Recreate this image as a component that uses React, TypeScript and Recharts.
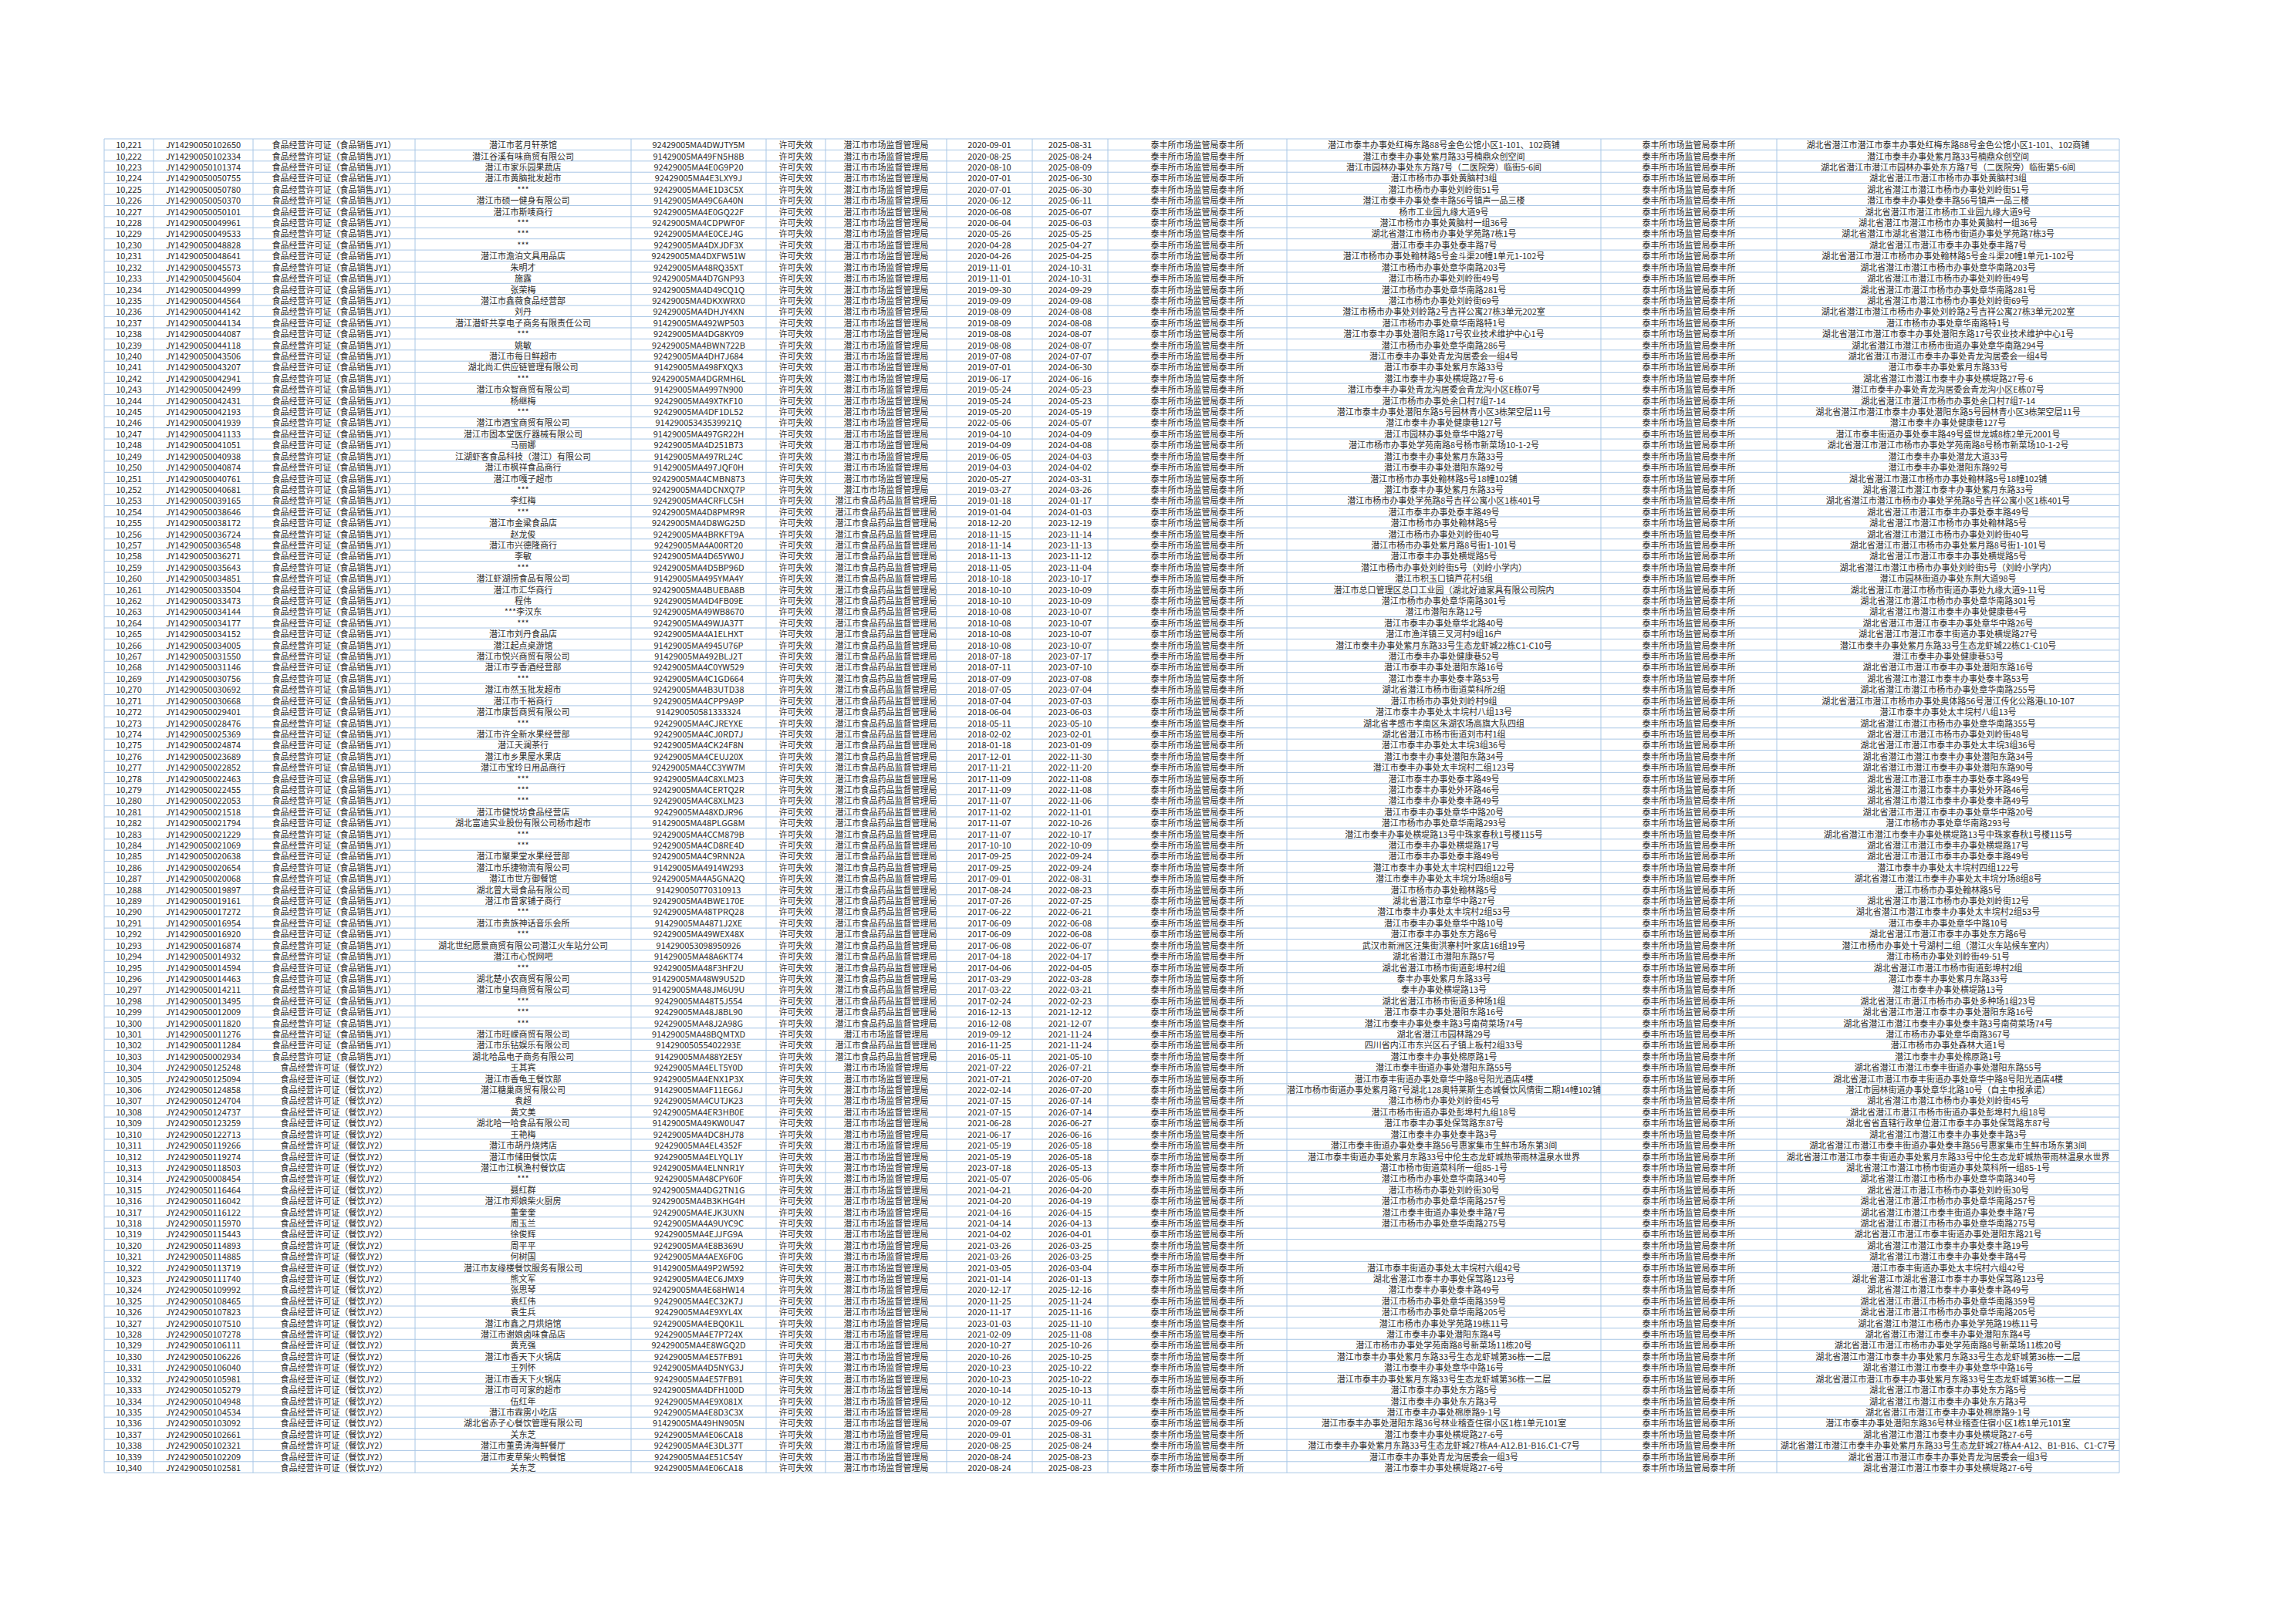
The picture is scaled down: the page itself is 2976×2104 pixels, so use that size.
import React from 'react';
import { ScatterChart, Scatter, XAxis, YAxis, ReferenceLine } from 'recharts';

// ---------------- DATA ----------------
const serialNos = [
  10221, 10222, 10223, 10224, 10225, 10226, 10227, 10228, 10229, 10230,
  10231, 10232, 10233, 10234, 10235, 10236, 10237, 10238, 10239, 10240,
  10241, 10242, 10243, 10244, 10245, 10246, 10247, 10248, 10249, 10250,
  10251, 10252, 10253, 10254, 10255, 10256, 10257, 10258, 10259, 10260,
  10261, 10262, 10263, 10264, 10265, 10266, 10267, 10268, 10269, 10270,
  10271, 10272, 10273, 10274, 10275, 10276, 10277, 10278, 10279, 10280,
  10281, 10282, 10283, 10284, 10285, 10286, 10287, 10288, 10289, 10290,
  10291, 10292, 10293, 10294, 10295, 10296, 10297, 10298, 10299, 10300,
  10301, 10302, 10303, 10304, 10305, 10306, 10307, 10308, 10309, 10310,
  10311, 10312, 10313, 10314, 10315, 10316, 10317, 10318, 10319, 10320,
  10321, 10322, 10323, 10324, 10325, 10326, 10327, 10328, 10329, 10330,
  10331, 10332, 10333, 10334, 10335, 10336, 10337, 10338, 10339, 10340,
];

const licenseNos = [
  'JY14290050102650', 'JY14290050102334', 'JY14290050101374', 'JY14290050050755', 'JY14290050050780',
  'JY14290050050370', 'JY14290050050101', 'JY14290050049961', 'JY14290050049533', 'JY14290050048828',
  'JY14290050048641', 'JY14290050045573', 'JY14290050045604', 'JY14290050044999', 'JY14290050044564',
  'JY14290050044142', 'JY14290050044134', 'JY14290050044087', 'JY14290050044118', 'JY14290050043506',
  'JY14290050043207', 'JY14290050042941', 'JY14290050042499', 'JY14290050042431', 'JY14290050042193',
  'JY14290050041939', 'JY14290050041133', 'JY14290050041051', 'JY14290050040938', 'JY14290050040874',
  'JY14290050040761', 'JY14290050040681', 'JY14290050039165', 'JY14290050038646', 'JY14290050038172',
  'JY14290050036724', 'JY14290050036548', 'JY14290050036271', 'JY14290050035643', 'JY14290050034851',
  'JY14290050033504', 'JY14290050033473', 'JY14290050034144', 'JY14290050034177', 'JY14290050034152',
  'JY14290050034005', 'JY14290050031550', 'JY14290050031146', 'JY14290050030756', 'JY14290050030692',
  'JY14290050030668', 'JY14290050029401', 'JY14290050028476', 'JY14290050025369', 'JY14290050024874',
  'JY14290050023689', 'JY14290050022852', 'JY14290050022463', 'JY14290050022455', 'JY14290050022053',
  'JY14290050021518', 'JY14290050021794', 'JY14290050021229', 'JY14290050021069', 'JY14290050020638',
  'JY14290050020654', 'JY14290050020068', 'JY14290050019897', 'JY14290050019161', 'JY14290050017272',
  'JY14290050016954', 'JY14290050016920', 'JY14290050016874', 'JY14290050014932', 'JY14290050014594',
  'JY14290050014463', 'JY14290050014211', 'JY14290050013495', 'JY14290050012009', 'JY14290050011820',
  'JY14290050011276', 'JY14290050011284', 'JY14290050002934', 'JY24290050125248', 'JY24290050125094',
  'JY24290050124858', 'JY24290050124704', 'JY24290050124737', 'JY24290050123259', 'JY24290050122713',
  'JY24290050119266', 'JY24290050119274', 'JY24290050118503', 'JY24290050008454', 'JY24290050116464',
  'JY24290050116042', 'JY24290050116122', 'JY24290050115970', 'JY24290050115443', 'JY24290050114893',
  'JY24290050114885', 'JY24290050113719', 'JY24290050111740', 'JY24290050109992', 'JY24290050108465',
  'JY24290050107823', 'JY24290050107510', 'JY24290050107278', 'JY24290050106111', 'JY24290050106226',
  'JY24290050106040', 'JY24290050105981', 'JY24290050105279', 'JY24290050104948', 'JY24290050104534',
  'JY24290050103092', 'JY24290050102661', 'JY24290050102321', 'JY24290050102209', 'JY24290050102581',
];

const licenseTypes = ['食品经营许可证（食品销售JY1）', '食品经营许可证（餐饮JY2）'];
// index into licenseTypes for each row
const licenseTypeIdx = [
  0, 0, 0, 0, 0, 0, 0, 0, 0, 0, 0, 0, 0, 0, 0, 0, 0, 0, 0, 0,
  0, 0, 0, 0, 0, 0, 0, 0, 0, 0, 0, 0, 0, 0, 0, 0, 0, 0, 0, 0,
  0, 0, 0, 0, 0, 0, 0, 0, 0, 0, 0, 0, 0, 0, 0, 0, 0, 0, 0, 0,
  0, 0, 0, 0, 0, 0, 0, 0, 0, 0, 0, 0, 0, 0, 0, 0, 0, 0, 0, 0,
  0, 0, 0, 1, 1, 1, 1, 1, 1, 1, 1, 1, 1, 1, 1, 1, 1, 1, 1, 1,
  1, 1, 1, 1, 1, 1, 1, 1, 1, 1, 1, 1, 1, 1, 1, 1, 1, 1, 1, 1,
];

const names = [
  '潜江市茗月轩茶馆', '潜江谷溪有味商贸有限公司', '潜江市家乐园果蔬店', '潜江市黄脑批发超市', '***',
  '潜江市硕一健身有限公司', '潜江市斯唛商行', '***', '***', '***',
  '潜江市澹泊文具用品店', '朱明才', '施露', '张荣梅', '潜江市鑫薇食品经营部',
  '刘丹', '潜江潜虾共享电子商务有限责任公司', '***', '姚敏', '潜江市每日鲜超市',
  '湖北尚汇供应链管理有限公司', '***', '潜江市众智商贸有限公司', '杨继梅', '***',
  '潜江市酒宝商贸有限公司', '潜江市固本堂医疗器械有限公司', '马丽娜', '江湖虾客食品科技（潜江）有限公司', '潜江市枫祥食品商行',
  '潜江市嘎子超市', '***', '李红梅', '***', '潜江市金粱食品店',
  '赵龙俊', '潜江市兴德隆商行', '李敏', '***', '潜江虾湖捞食品有限公司',
  '潜江市汇华商行', '程伟', '***李汉东', '***', '潜江市刘丹食品店',
  '潜江起点桌游馆', '潜江市悦兴商贸有限公司', '潜江市亨香酒经营部', '***', '潜江市然玉批发超市',
  '潜江市千裕商行', '潜江市康哲商贸有限公司', '***', '潜江市许全新水果经营部', '潜江天澜茶行',
  '潜江市乡果屋水果店', '潜江市宝玲日用品商行', '***', '***', '***',
  '潜江市健悦坊食品经营店', '湖北富迪实业股份有限公司杨市超市', '***', '***', '潜江市聚果堂水果经营部',
  '潜江市乐捷物流有限公司', '潜江市世方御餐馆', '湖北曾大哥食品有限公司', '潜江市曾家铺子商行', '***',
  '潜江市贵族神话音乐会所', '***', '湖北世纪愿景商贸有限公司潜江火车站分公司', '潜江市心悦网吧', '***',
  '湖北楚小农商贸有限公司', '潜江市皇玛商贸有限公司', '***', '***', '***',
  '潜江市旺嵘商贸有限公司', '潜江市乐钻娱乐有限公司', '湖北哈品电子商务有限公司', '王其宾', '潜江市香龟王餐饮部',
  '潜江糖巢商贸有限公司', '袁超', '黄文美', '湖北哈一哈食品有限公司', '王艳梅',
  '潜江市胡丹烧烤店', '潜江市储田餐饮店', '潜江市江枫渔村餐饮店', '***', '聂红群',
  '潜江市郑娘柴火厨房', '董奎奎', '周玉兰', '徐俊辉', '周平平',
  '何树国', '潜江市友缘楼餐饮服务有限公司', '熊文军', '张思琴', '袁红伟',
  '袁生兵', '潜江市鑫之月烘焙馆', '潜江市谢娘卤味食品店', '黄克强', '潜江市香天下火锅店',
  '王列怀', '潜江市香天下火锅店', '潜江市可可家的超市', '伍红年', '潜江市霖雳小吃店',
  '湖北省赤子心餐饮管理有限公司', '关东芝', '潜江市董勇涛海鲜餐厅', '潜江市麦草柴火鸭餐馆', '关东芝',
];

const creditCodes = [
  '92429005MA4DWJTY5M', '91429005MA49FN5H8B', '92429005MA4E0G9P20', '92429005MA4E3LXY9J', '92429005MA4E1D3C5X',
  '91429005MA49C6A40N', '92429005MA4E0GQ22F', '92429005MA4CDPWF0F', '92429005MA4E0CEJ4G', '92429005MA4DXJDF3X',
  '92429005MA4DXFW51W', '92429005MA48RQ35XT', '92429005MA4D7GNP93', '92429005MA4D49CQ1Q', '92429005MA4DKXWRX0',
  '92429005MA4DHJY4XN', '91429005MA492WP503', '92429005MA4DG8KY09', '92429005MA4BWN722B', '92429005MA4DH7J684',
  '91429005MA498FXQX3', '92429005MA4DGRMH6L', '91429005MA4997N900', '92429005MA49X7KF10', '92429005MA4DF1DL52',
  '91429005343539921Q', '91429005MA497GR22H', '92429005MA4D251B73', '91429005MA497RL24C', '91429005MA497JQF0H',
  '92429005MA4CMBN873', '92429005MA4DCNXQ7P', '92429005MA4CRFLC5H', '92429005MA4D8PMR9R', '92429005MA4D8WG25D',
  '92429005MA4BRKFT9A', '92429005MA4A00RT20', '92429005MA4D65YW0J', '92429005MA4D5BP96D', '91429005MA495YMA4Y',
  '92429005MA4BUEBA8B', '92429005MA4D4FB09E', '92429005MA49WB8670', '92429005MA49WJA37T', '92429005MA4A1ELHXT',
  '91429005MA4945U76P', '91429005MA492BLJ2T', '92429005MA4C0YW529', '92429005MA4C1GD664', '92429005MA4B3UTD38',
  '92429005MA4CPP9A9P', '914290050581333324', '92429005MA4CJREYXE', '92429005MA4CJ0RD7J', '92429005MA4CK24F8N',
  '92429005MA4CEUJ20X', '92429005MA4CC3YW7M', '92429005MA4C8XLM23', '92429005MA4CERTQ2R', '92429005MA4C8XLM23',
  '92429005MA48XDJR96', '91429005MA48PLGG8M', '92429005MA4CCM879B', '92429005MA4CD8RE4D', '92429005MA4C9RNN2A',
  '91429005MA4914W293', '92429005MA4A5GNA2Q', '914290050770310913', '92429005MA4BWE170E', '92429005MA48TPRQ28',
  '91429005MA4871J2XE', '92429005MA49WEX48X', '914290053098950926', '91429005MA48A6KT74', '92429005MA48F3HF2U',
  '91429005MA48W9U52D', '91429005MA48JM6U9U', '92429005MA48T5J554', '92429005MA48J8BL90', '92429005MA48J2A98G',
  '91429005MA48BQMTXD', '91429005055402293E', '91429005MA488Y2E5Y', '92429005MA4ELT5Y0D', '92429005MA4ENX1P3X',
  '91429005MA4F11EG6J', '92429005MA4CUTJK23', '92429005MA4ER3HB0E', '91429005MA49KW0U47', '92429005MA4DC8HJ78',
  '92429005MA4EL4352F', '92429005MA4ELYQL1Y', '92429005MA4ELNNR1Y', '92429005MA48CPY60F', '92429005MA4DG2TN1G',
  '92429005MA4B3KHG4H', '92429005MA4EJK3UXN', '92429005MA4A9UYC9C', '92429005MA4EJJFG9A', '92429005MA4E8B369U',
  '92429005MA4AEX6F0G', '91429005MA49P2W592', '92429005MA4EC6JMX9', '92429005MA4E68HW14', '92429005MA4EC32K7J',
  '92429005MA4E9XYL4X', '92429005MA4EBQ0K1L', '92429005MA4E7P724X', '92429005MA4E8WGQ2D', '92429005MA4E57FB91',
  '92429005MA4D5NYG3J', '92429005MA4E57FB91', '92429005MA4DFH100D', '92429005MA4E9X081X', '92429005MA4E8D3C3X',
  '91429005MA49HN905N', '92429005MA4E06CA18', '92429005MA4E3DL37T', '92429005MA4E51C54Y', '92429005MA4E06CA18',
];

const statusText = '许可失效';

const authorities = ['潜江市市场监督管理局', '潜江市食品药品监督管理局'];
const authorityIdx = [
  0, 0, 0, 0, 0, 0, 0, 0, 0, 0, 0, 0, 0, 0, 0, 0, 0, 0, 0, 0,
  0, 0, 0, 0, 0, 0, 0, 0, 0, 0, 0, 0, 1, 1, 1, 1, 1, 1, 1, 1,
  1, 1, 1, 1, 1, 1, 1, 1, 1, 1, 1, 1, 1, 1, 1, 1, 1, 1, 1, 1,
  1, 1, 1, 1, 1, 1, 1, 1, 1, 1, 1, 1, 1, 1, 1, 1, 1, 1, 1, 1,
  0, 1, 1, 0, 0, 0, 0, 0, 0, 0, 0, 0, 0, 0, 0, 0, 0, 0, 0, 0,
  0, 0, 0, 0, 0, 0, 0, 0, 0, 0, 0, 0, 0, 0, 0, 0, 0, 0, 0, 0,
];

const issueDates = [
  '2020-09-01', '2020-08-25', '2020-08-10', '2020-07-01', '2020-07-01', '2020-06-12', '2020-06-08', '2020-06-04', '2020-05-26', '2020-04-28',
  '2020-04-26', '2019-11-01', '2019-11-01', '2019-09-30', '2019-09-09', '2019-08-09', '2019-08-09', '2019-08-08', '2019-08-08', '2019-07-08',
  '2019-07-01', '2019-06-17', '2019-05-24', '2019-05-24', '2019-05-20', '2022-05-06', '2019-04-10', '2019-04-09', '2019-06-05', '2019-04-03',
  '2020-05-27', '2019-03-27', '2019-01-18', '2019-01-04', '2018-12-20', '2018-11-15', '2018-11-14', '2018-11-13', '2018-11-05', '2018-10-18',
  '2018-10-10', '2018-10-10', '2018-10-08', '2018-10-08', '2018-10-08', '2018-10-08', '2018-07-18', '2018-07-11', '2018-07-09', '2018-07-05',
  '2018-07-04', '2018-06-04', '2018-05-11', '2018-02-02', '2018-01-18', '2017-12-01', '2017-11-21', '2017-11-09', '2017-11-09', '2017-11-07',
  '2017-11-02', '2017-11-07', '2017-11-07', '2017-10-10', '2017-09-25', '2017-09-25', '2017-09-01', '2017-08-24', '2017-07-26', '2017-06-22',
  '2017-06-09', '2017-06-09', '2017-06-08', '2017-04-18', '2017-04-06', '2017-03-29', '2017-03-22', '2017-02-24', '2016-12-13', '2016-12-08',
  '2019-09-12', '2016-11-25', '2016-05-11', '2021-07-22', '2021-07-21', '2022-02-14', '2021-07-15', '2021-07-15', '2021-06-28', '2021-06-17',
  '2021-05-19', '2021-05-19', '2023-07-18', '2021-05-07', '2021-04-21', '2021-04-20', '2021-04-16', '2021-04-14', '2021-04-02', '2021-03-26',
  '2021-03-26', '2021-03-05', '2021-01-14', '2020-12-17', '2020-11-25', '2020-11-17', '2023-01-03', '2021-02-09', '2020-10-27', '2020-10-26',
  '2020-10-23', '2020-10-23', '2020-10-14', '2020-10-12', '2020-09-28', '2020-09-07', '2020-09-01', '2020-08-25', '2020-08-24', '2020-08-24',
];

const expiryDates = [
  '2025-08-31', '2025-08-24', '2025-08-09', '2025-06-30', '2025-06-30', '2025-06-11', '2025-06-07', '2025-06-03', '2025-05-25', '2025-04-27',
  '2025-04-25', '2024-10-31', '2024-10-31', '2024-09-29', '2024-09-08', '2024-08-08', '2024-08-08', '2024-08-07', '2024-08-07', '2024-07-07',
  '2024-06-30', '2024-06-16', '2024-05-23', '2024-05-23', '2024-05-19', '2024-05-07', '2024-04-09', '2024-04-08', '2024-04-03', '2024-04-02',
  '2024-03-31', '2024-03-26', '2024-01-17', '2024-01-03', '2023-12-19', '2023-11-14', '2023-11-13', '2023-11-12', '2023-11-04', '2023-10-17',
  '2023-10-09', '2023-10-09', '2023-10-07', '2023-10-07', '2023-10-07', '2023-10-07', '2023-07-17', '2023-07-10', '2023-07-08', '2023-07-04',
  '2023-07-03', '2023-06-03', '2023-05-10', '2023-02-01', '2023-01-09', '2022-11-30', '2022-11-20', '2022-11-08', '2022-11-08', '2022-11-06',
  '2022-11-01', '2022-10-26', '2022-10-17', '2022-10-09', '2022-09-24', '2022-09-24', '2022-08-31', '2022-08-23', '2022-07-25', '2022-06-21',
  '2022-06-08', '2022-06-08', '2022-06-07', '2022-04-17', '2022-04-05', '2022-03-28', '2022-03-21', '2022-02-23', '2021-12-12', '2021-12-07',
  '2021-11-24', '2021-11-24', '2021-05-10', '2026-07-21', '2026-07-20', '2026-07-20', '2026-07-14', '2026-07-14', '2026-06-27', '2026-06-16',
  '2026-05-18', '2026-05-18', '2026-05-13', '2026-05-06', '2026-04-20', '2026-04-19', '2026-04-15', '2026-04-13', '2026-04-01', '2026-03-25',
  '2026-03-25', '2026-03-04', '2026-01-13', '2025-12-16', '2025-11-24', '2025-11-16', '2025-11-10', '2025-11-08', '2025-10-26', '2025-10-25',
  '2025-10-22', '2025-10-22', '2025-10-13', '2025-10-11', '2025-09-27', '2025-09-06', '2025-08-31', '2025-08-24', '2025-08-23', '2025-08-23',
];

const officeText = '泰丰所市场监管局泰丰所';

const addresses = [
  '潜江市泰丰办事处红梅东路88号金色公馆小区1-101、102商铺', '潜江市泰丰办事处紫月路33号楠鼎众创空间', '潜江市园林办事处东方路7号（二医院旁）临街5-6间', '潜江市杨市办事处黄脑村3组', '潜江市杨市办事处刘岭街51号',
  '潜江市泰丰办事处泰丰路56号镇声一品三楼', '杨市工业园九缘大道9号', '潜江市杨市办事处黄脑村一组36号', '湖北省潜江市杨市办事处学苑路7栋1号', '潜江市泰丰办事处泰丰路7号',
  '潜江市杨市办事处翰林路5号金斗渠20幢1单元1-102号', '潜江市杨市办事处章华南路203号', '潜江市杨市办事处刘岭街49号', '潜江市杨市办事处章华南路281号', '潜江市杨市办事处刘岭街69号',
  '潜江市杨市办事处刘岭路2号吉祥公寓27栋3单元202室', '潜江市杨市办事处章华南路特1号', '潜江市泰丰办事处潜阳东路17号农业技术维护中心1号', '潜江市杨市办事处章华南路286号', '潜江市泰丰办事处青龙沟居委会一组4号',
  '潜江市泰丰办事处紫月东路33号', '潜江市泰丰办事处横堤路27号-6', '潜江市泰丰办事处青龙沟居委会青龙沟小区E栋07号', '潜江市杨市办事处余口村7组7-14', '潜江市泰丰办事处潜阳东路5号园林青小区3栋架空层11号',
  '潜江市泰丰办事处健康巷127号', '潜江市园林办事处章华中路27号', '潜江市杨市办事处学苑南路8号杨市新菜场10-1-2号', '潜江市泰丰办事处紫月东路33号', '潜江市泰丰办事处潜阳东路92号',
  '潜江市杨市办事处翰林路5号18幢102铺', '潜江市泰丰办事处紫月东路33号', '潜江市杨市办事处学苑路8号吉祥公寓小区1栋401号', '潜江市泰丰办事处泰丰路49号', '潜江市杨市办事处翰林路5号',
  '潜江市杨市办事处刘岭街40号', '潜江市杨市办事处紫月路8号街1-101号', '潜江市泰丰办事处横堤路5号', '潜江市杨市办事处刘岭街5号（刘岭小学内）', '潜江市积玉口镇芦花村5组',
  '潜江市总口管理区总口工业园（湖北好迪家具有限公司院内', '潜江市杨市办事处章华南路301号', '潜江市潜阳东路12号', '潜江市泰丰办事处章华北路40号', '潜江市渔洋镇三叉河村9组16户',
  '潜江市泰丰办事处紫月东路33号生态龙虾城22栋C1-C10号', '潜江市泰丰办事处健康巷52号', '潜江市泰丰办事处潜阳东路16号', '潜江市泰丰办事处泰丰路53号', '湖北省潜江市杨市街道菜科所2组',
  '潜江市杨市办事处刘岭村9组', '潜江市泰丰办事处太丰垸村八组13号', '湖北省孝感市孝南区朱湖农场高旗大队四组', '湖北省潜江市杨市街道刘市村1组', '潜江市泰丰办事处太丰垸3组36号',
  '潜江市泰丰办事处潜阳东路34号', '潜江市泰丰办事处太丰垸村二组123号', '潜江市泰丰办事处泰丰路49号', '潜江市泰丰办事处外环路46号', '潜江市泰丰办事处泰丰路49号',
  '潜江市泰丰办事处章华中路20号', '潜江市杨市办事处章华南路293号', '潜江市泰丰办事处横堤路13号中珠家春秋1号楼115号', '潜江市泰丰办事处横堤路17号', '潜江市泰丰办事处泰丰路49号',
  '潜江市泰丰办事处太丰垸村四组122号', '潜江市泰丰办事处太丰垸分场8组8号', '潜江市杨市办事处翰林路5号', '湖北省潜江市章华中路27号', '潜江市泰丰办事处太丰垸村2组53号',
  '潜江市泰丰办事处章华中路10号', '潜江市泰丰办事处东方路6号', '武汉市新洲区汪集街洪寨村叶家店16组19号', '湖北省潜江市潜阳东路57号', '湖北省潜江市杨市街道彭埠村2组',
  '泰丰办事处紫月东路33号', '泰丰办事处横堤路13号', '湖北省潜江市杨市街道多种场1组', '潜江市泰丰办事处潜阳东路16号', '潜江市泰丰办事处泰丰路3号南荷菜场74号',
  '湖北省潜江市园林路29号', '四川省内江市东兴区石子镇上板村2组33号', '潜江市泰丰办事处棉原路1号', '潜江市泰丰街道办事处潜阳东路55号', '潜江市泰丰街道办事处章华中路8号阳光酒店4楼',
  '潜江市杨市街道办事处紫月路7号湖北128奥特莱斯生态城餐饮风情街二期14幢102铺', '潜江市杨市办事处刘岭街45号', '潜江市杨市街道办事处彭埠村九组18号', '潜江市泰丰办事处保驾路东87号', '潜江市泰丰办事处泰丰路3号',
  '潜江市泰丰街道办事处泰丰路56号惠家集市生鲜市场东第3间', '潜江市泰丰街道办事处紫月东路33号中伦生态龙虾城热带雨林温泉水世界', '潜江市杨市街道菜科所一组85-1号', '潜江市杨市办事处章华南路340号', '潜江市杨市办事处刘岭街30号',
  '潜江市杨市办事处章华南路257号', '潜江市泰丰街道办事处泰丰路7号', '潜江市杨市办事处章华南路275号', '', '',
  '', '潜江市泰丰街道办事处太丰垸村六组42号', '湖北省潜江市泰丰办事处保驾路123号', '潜江市泰丰办事处泰丰路49号', '潜江市杨市办事处章华南路359号',
  '潜江市杨市办事处章华南路205号', '潜江市杨市办事处学苑路19栋11号', '潜江市泰丰办事处潜阳东路4号', '潜江市杨市办事处学苑南路8号新菜场11栋20号', '潜江市泰丰办事处紫月东路33号生态龙虾城第36栋一二层',
  '潜江市泰丰办事处章华中路16号', '潜江市泰丰办事处紫月东路33号生态龙虾城第36栋一二层', '潜江市泰丰办事处东方路5号', '潜江市泰丰办事处东方路3号', '潜江市泰丰办事处棉原路9-1号',
  '潜江市泰丰办事处潜阳东路36号林业稽查住宿小区1栋1单元101室', '潜江市泰丰办事处横堤路27-6号', '潜江市泰丰办事处紫月东路33号生态龙虾城27栋A4-A12.B1-B16.C1-C7号', '潜江市泰丰办事处青龙沟居委会一组3号', '潜江市泰丰办事处横堤路27-6号',
];

const regAddresses = [
  '湖北省潜江市潜江市泰丰办事处红梅东路88号金色公馆小区1-101、102商铺', '潜江市泰丰办事处紫月路33号楠鼎众创空间', '湖北省潜江市潜江市园林办事处东方路7号（二医院旁）临街第5-6间', '湖北省潜江市潜江市杨市办事处黄脑村3组', '湖北省潜江市潜江市杨市办事处刘岭街51号',
  '潜江市泰丰办事处泰丰路56号镇声一品三楼', '湖北省潜江市潜江市杨市工业园九缘大道9号', '湖北省潜江市潜江市杨市办事处黄脑村一组36号', '湖北省潜江市湖北省潜江市杨市街道办事处学苑路7栋3号', '湖北省潜江市潜江市泰丰办事处泰丰路7号',
  '湖北省潜江市潜江市杨市办事处翰林路5号金斗渠20幢1单元1-102号', '湖北省潜江市潜江市杨市办事处章华南路203号', '湖北省潜江市潜江市杨市办事处刘岭街49号', '湖北省潜江市潜江市杨市办事处章华南路281号', '湖北省潜江市潜江市杨市办事处刘岭街69号',
  '湖北省潜江市潜江市杨市办事处刘岭路2号吉祥公寓27栋3单元202室', '潜江市杨市办事处章华南路特1号', '湖北省潜江市潜江市泰丰办事处潜阳东路17号农业技术维护中心1号', '湖北省潜江市潜江市杨市街道办事处章华南路294号', '湖北省潜江市潜江市泰丰办事处青龙沟居委会一组4号',
  '潜江市泰丰办事处紫月东路33号', '湖北省潜江市潜江市泰丰办事处横堤路27号-6', '潜江市泰丰办事处青龙沟居委会青龙沟小区E栋07号', '湖北省潜江市潜江市杨市办事处余口村7组7-14', '湖北省潜江市潜江市泰丰办事处潜阳东路5号园林青小区3栋架空层11号',
  '潜江市泰丰办事处健康巷127号', '潜江市泰丰街道办事处泰丰路49号盛世龙城8栋2单元2001号', '湖北省潜江市潜江市杨市办事处学苑南路8号杨市新菜场10-1-2号', '潜江市泰丰办事处潜龙大道33号', '潜江市泰丰办事处潜阳东路92号',
  '湖北省潜江市潜江市杨市办事处翰林路5号18幢102铺', '湖北省潜江市潜江市泰丰办事处紫月东路33号', '湖北省潜江市潜江市杨市办事处学苑路8号吉祥公寓小区1栋401号', '湖北省潜江市潜江市泰丰办事处泰丰路49号', '湖北省潜江市潜江市杨市办事处翰林路5号',
  '湖北省潜江市潜江市杨市办事处刘岭街40号', '湖北省潜江市潜江市杨市办事处紫月路8号街1-101号', '湖北省潜江市潜江市泰丰办事处横堤路5号', '湖北省潜江市潜江市杨市办事处刘岭街5号（刘岭小学内）', '潜江市园林街道办事处东荆大道98号',
  '湖北省潜江市潜江市杨市街道办事处九缘大道9-11号', '湖北省潜江市潜江市杨市办事处章华南路301号', '湖北省潜江市潜江市泰丰办事处健康巷4号', '湖北省潜江市潜江市泰丰办事处章华中路26号', '湖北省潜江市潜江市泰丰街道办事处横堤路27号',
  '潜江市泰丰办事处紫月东路33号生态龙虾城22栋C1-C10号', '潜江市泰丰办事处健康巷53号', '湖北省潜江市潜江市泰丰办事处潜阳东路16号', '湖北省潜江市潜江市泰丰办事处泰丰路53号', '湖北省潜江市潜江市杨市办事处章华南路255号',
  '湖北省潜江市潜江市杨市办事处奥体路56号潜江传化公路港L10-107', '潜江市泰丰办事处太丰垸村八组13号', '湖北省潜江市潜江市杨市办事处章华南路355号', '湖北省潜江市潜江市杨市办事处刘岭街48号', '湖北省潜江市潜江市泰丰办事处太丰垸3组36号',
  '湖北省潜江市潜江市泰丰办事处潜阳东路34号', '湖北省潜江市潜江市泰丰办事处潜阳东路90号', '湖北省潜江市潜江市泰丰办事处泰丰路49号', '湖北省潜江市潜江市泰丰办事处外环路46号', '湖北省潜江市潜江市泰丰办事处泰丰路49号',
  '湖北省潜江市潜江市泰丰办事处章华中路20号', '潜江市杨市办事处章华南路293号', '湖北省潜江市潜江市泰丰办事处横堤路13号中珠家春秋1号楼115号', '湖北省潜江市潜江市泰丰办事处横堤路17号', '湖北省潜江市潜江市泰丰办事处泰丰路49号',
  '潜江市泰丰办事处太丰垸村四组122号', '湖北省潜江市潜江市泰丰办事处太丰垸分场8组8号', '潜江市杨市办事处翰林路5号', '湖北省潜江市潜江市杨市办事处刘岭街12号', '湖北省潜江市潜江市泰丰办事处太丰垸村2组53号',
  '潜江市泰丰办事处章华中路10号', '湖北省潜江市潜江市泰丰办事处东方路6号', '潜江市杨市办事处十号湖村二组（潜江火车站候车室内）', '潜江市杨市办事处刘岭街49-51号', '湖北省潜江市潜江市杨市街道彭埠村2组',
  '潜江市泰丰办事处紫月东路33号', '潜江市泰丰办事处横堤路13号', '湖北省潜江市潜江市杨市办事处多种场1组23号', '湖北省潜江市潜江市泰丰办事处潜阳东路16号', '湖北省潜江市潜江市泰丰办事处泰丰路3号南荷菜场74号',
  '潜江市杨市办事处章华南路367号', '潜江市杨市办事处森林大道1号', '潜江市泰丰办事处棉原路1号', '湖北省潜江市潜江市泰丰街道办事处潜阳东路55号', '湖北省潜江市潜江市泰丰街道办事处章华中路8号阳光酒店4楼',
  '潜江市园林街道办事处章华北路10号（自主申报承诺）', '湖北省潜江市潜江市杨市办事处刘岭街45号', '湖北省潜江市潜江市杨市街道办事处彭埠村九组18号', '湖北省省直辖行政单位潜江市泰丰办事处保驾路东87号', '湖北省潜江市潜江市泰丰办事处泰丰路3号',
  '湖北省潜江市潜江市泰丰街道办事处泰丰路56号惠家集市生鲜市场东第3间', '湖北省潜江市潜江市泰丰街道办事处紫月东路33号中伦生态龙虾城热带雨林温泉水世界', '湖北省潜江市潜江市杨市街道办事处菜科所一组85-1号', '湖北省潜江市潜江市杨市办事处章华南路340号', '湖北省潜江市潜江市杨市办事处刘岭街30号',
  '湖北省潜江市潜江市杨市办事处章华南路257号', '湖北省潜江市潜江市泰丰街道办事处泰丰路7号', '湖北省潜江市潜江市杨市办事处章华南路275号', '湖北省潜江市潜江市泰丰街道办事处潜阳东路21号', '湖北省潜江市潜江市泰丰办事处泰丰路19号',
  '湖北省潜江市潜江市泰丰办事处泰丰路4号', '潜江市泰丰街道办事处太丰垸村六组42号', '湖北省潜江市湖北省潜江市泰丰办事处保驾路123号', '湖北省潜江市潜江市泰丰办事处泰丰路49号', '湖北省潜江市潜江市杨市办事处章华南路359号',
  '湖北省潜江市潜江市杨市办事处章华南路205号', '湖北省潜江市潜江市杨市办事处学苑路19栋11号', '湖北省潜江市潜江市泰丰办事处潜阳东路4号', '湖北省潜江市潜江市杨市办事处学苑南路8号新菜场11栋20号', '湖北省潜江市潜江市泰丰办事处紫月东路33号生态龙虾城第36栋一二层',
  '湖北省潜江市潜江市泰丰办事处章华中路16号', '湖北省潜江市潜江市泰丰办事处紫月东路33号生态龙虾城第36栋一二层', '湖北省潜江市潜江市泰丰办事处东方路5号', '湖北省潜江市潜江市泰丰办事处东方路3号', '湖北省潜江市潜江市泰丰办事处棉原路9-1号',
  '潜江市泰丰办事处潜阳东路36号林业稽查住宿小区1栋1单元101室', '湖北省潜江市潜江市泰丰办事处横堤路27-6号', '湖北省潜江市潜江市泰丰办事处紫月东路33号生态龙虾城27栋A4-A12、B1-B16、C1-C7号', '湖北省潜江市潜江市泰丰办事处青龙沟居委会一组3号', '湖北省潜江市潜江市泰丰办事处横堤路27-6号',
];

// ---------------- LAYOUT ----------------
// column edges in table units (pixels relative to table left)
const TABLE_LEFT = 135;
const COL_EDGES = [135, 199, 328, 538, 818, 993, 1070, 1227, 1338, 1436, 1668, 2075, 2303, 2747].map((v) => v - TABLE_LEFT);
const TABLE_W = COL_EDGES[COL_EDGES.length - 1];
const ROWS = serialNos.length;
const ROW_H = 14.41;
const CHART_W = 2960;
const CHART_H = 2088;
const M_TOP = 180 - 8;
const M_LEFT = TABLE_LEFT - 8;
const M_RIGHT = CHART_W - M_LEFT - TABLE_W;
const M_BOTTOM = CHART_H - M_TOP - ROWS * ROW_H;

const GRID = '#a9c7e6';
const TEXT = '#2b2b2b';
const FONT = "'Noto Sans CJK SC', 'Noto Sans', sans-serif";

const fmtSerial = (n: number) => n.toLocaleString('en-US');

const columns: string[][] = [
  serialNos.map(fmtSerial),
  licenseNos,
  licenseTypeIdx.map((i) => licenseTypes[i]),
  names,
  creditCodes,
  serialNos.map(() => statusText),
  authorityIdx.map((i) => authorities[i]),
  issueDates,
  expiryDates,
  serialNos.map(() => officeText),
  addresses,
  serialNos.map(() => officeText),
  regAddresses,
];

const columnData = columns.map((col, c) =>
  col.map((text, r) => ({
    x: (COL_EDGES[c] + COL_EDGES[c + 1]) / 2,
    y: r + 0.5,
    text,
  }))
);

const CellText = (props: any) => {
  const { cx, cy, payload } = props;
  if (!payload || !payload.text) return <g />;
  return (
    <text
      x={cx}
      y={cy}
      textAnchor="middle"
      dominantBaseline="central"
      fontFamily={FONT}
      fontSize={11}
      fill={TEXT}
    >
      {payload.text}
    </text>
  );
};

const rowLines = Array.from({ length: ROWS + 1 }, (_, i) => i);

export default function App() {
  return (
    <div style={{ width: CHART_W, height: CHART_H, background: '#ffffff' }}>
      <ScatterChart
        width={CHART_W}
        height={CHART_H}
        margin={{ top: M_TOP, left: M_LEFT, right: M_RIGHT, bottom: M_BOTTOM }}
      >
        <XAxis type="number" dataKey="x" domain={[0, TABLE_W]} allowDataOverflow hide />
        <YAxis type="number" dataKey="y" domain={[0, ROWS]} allowDataOverflow reversed hide />
        {rowLines.map((i) => (
          <ReferenceLine key={`h${i}`} y={i} stroke={GRID} strokeWidth={1} />
        ))}
        {COL_EDGES.map((e, i) => (
          <ReferenceLine key={`v${i}`} x={e} stroke={GRID} strokeWidth={1} />
        ))}
        {columnData.map((d, c) => (
          <Scatter
            key={`c${c}`}
            data={d}
            shape={CellText}
            isAnimationActive={false}
          />
        ))}
      </ScatterChart>
    </div>
  );
}
